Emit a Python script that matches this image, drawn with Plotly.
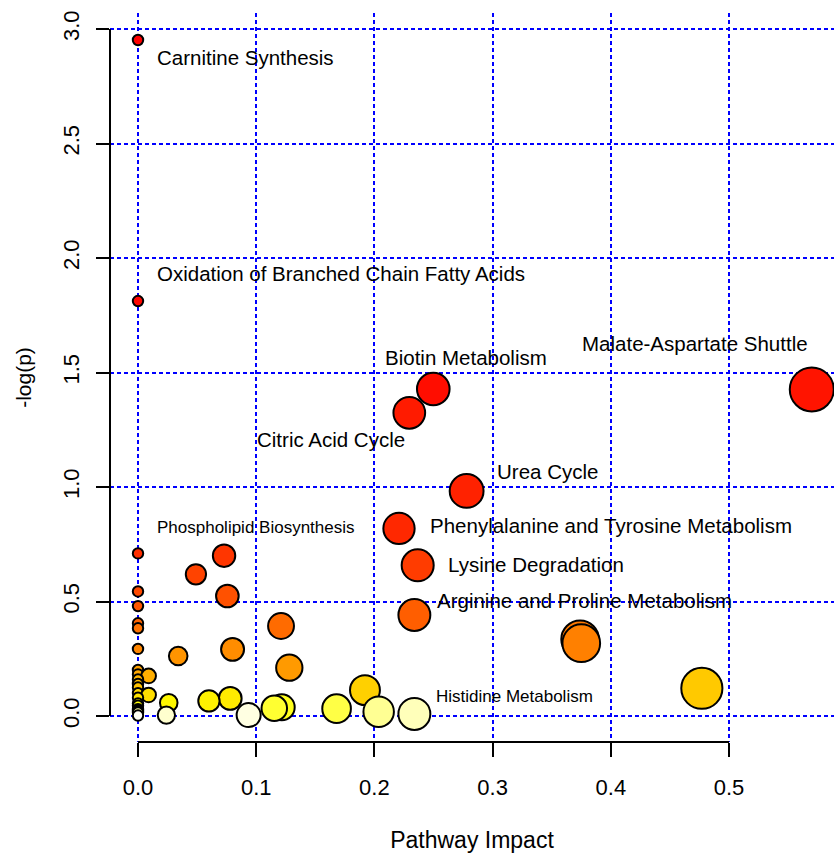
import colorsys
import numpy as np
import pandas as pd
import plotly.graph_objects as go

# ---------------- data ----------------
pathway = [
    "Carnitine Synthesis", "Oxidation of Branched Chain Fatty Acids", "Biotin Metabolism",
    "Malate-Aspartate Shuttle", "Citric Acid Cycle", "Urea Cycle",
    "Phenylalanine and Tyrosine Metabolism", "Phospholipid Biosynthesis", "",
    "Lysine Degradation", "", "", "", "", "Arginine and Proline Metabolism",
    "", "", "", "", "", "", "", "", "", "", "", "", "", "", "", "", "", "", "", "",
    "", "", "", "", "", "", "", "", "", "", "", "", "", "Histidine Metabolism", "", "", "",
]
impact = [
    0.000, 0.000, 0.2498, 0.570, 0.2295, 0.278, 0.2208, 0.000, 0.0728, 0.2366,
    0.049, 0.000, 0.0756, 0.000, 0.2338, 0.000, 0.121, 0.000, 0.374, 0.375,
    0.000, 0.080, 0.034, 0.128, 0.000, 0.000, 0.009, 0.000, 0.000, 0.000,
    0.477, 0.192, 0.000, 0.009, 0.000, 0.078, 0.060, 0.026, 0.000, 0.000,
    0.1216, 0.1153, 0.168, 0.000, 0.000, 0.000, 0.2036, 0.000, 0.2338, 0.024,
    0.0936, 0.000,
]
neglogp = [
    2.952, 1.812, 1.428, 1.426, 1.324, 0.983, 0.819, 0.710, 0.700, 0.658,
    0.619, 0.544, 0.524, 0.480, 0.441, 0.405, 0.393, 0.383, 0.335, 0.318,
    0.293, 0.291, 0.262, 0.211, 0.201, 0.182, 0.175, 0.160, 0.140, 0.125,
    0.121, 0.113, 0.100, 0.092, 0.080, 0.077, 0.066, 0.058, 0.055, 0.045,
    0.038, 0.034, 0.032, 0.030, 0.025, 0.020, 0.019, 0.015, 0.009, 0.004,
    0.004, 0.002,
]
x_ticks = [0.0, 0.1, 0.2, 0.3, 0.4, 0.5]
x_ticklabels = ["0.0", "0.1", "0.2", "0.3", "0.4", "0.5"]
y_ticks = [0.0, 0.5, 1.0, 1.5, 2.0, 2.5, 3.0]
y_ticklabels = ["0.0", "0.5", "1.0", "1.5", "2.0", "2.5", "3.0"]

# ---------------- styles ----------------
FONT = "Liberation Sans, Arial, sans-serif"
# label placement: (xanchor, xshift px, yshift px, font size)
label_style = {
    "Carnitine Synthesis": ("left", 17, -17, 20.5),
    "Oxidation of Branched Chain Fatty Acids": ("left", 17, 28, 20.5),
    "Malate-Aspartate Shuttle": ("right", -2, 46, 20.5),
    "Biotin Metabolism": ("center", 33, 32, 20.5),
    "Citric Acid Cycle": ("right", -2, -27, 20.5),
    "Urea Cycle": ("left", 28, 19, 20.5),
    "Phenylalanine and Tyrosine Metabolism": ("left", 29, 3, 20.5),
    "Lysine Degradation": ("left", 28, 1, 20.5),
    "Arginine and Proline Metabolism": ("left", 21, 15, 20.5),
    "Phospholipid Biosynthesis": ("left", 17, 26, 17),
    "Histidine Metabolism": ("left", 20, 17, 17),
}


def heat_colors(n):
    """R's heat.colors(n)."""
    j = n // 4
    i = n - j
    cols = []
    for k in range(i):
        h = (1 / 6) * k / (i - 1) if i > 1 else 0.0
        cols.append(colorsys.hsv_to_rgb(h, 1.0, 1.0))
    if j > 0:
        for s in np.linspace(1 - 1 / (2 * j), 1 / (2 * j), j):
            cols.append(colorsys.hsv_to_rgb(1 / 6, s, 1.0))
    return ["rgb(%d,%d,%d)" % tuple(round(c * 255) for c in rgb) for rgb in cols]


df = pd.DataFrame({"name": pathway, "x": impact, "y": neglogp})
df = df.sort_values("y", ascending=False, kind="stable").reset_index(drop=True)
n = len(df)
df["rank"] = np.arange(n)
heat = heat_colors(n)
colorscale = [[k / (n - 1), c] for k, c in enumerate(heat)]

# circle radius from sqrt(impact) (MetaboAnalyst style)
sq = np.sqrt(df["x"].to_numpy())
minR, maxR = 6.2, 23.0
radius = minR + (maxR - minR) * (sq - sq.min()) / (sq.max() - sq.min())
LW = 2
df["size"] = 2 * radius - LW

fig = go.Figure()
fig.add_trace(go.Scatter(
    x=df["x"], y=df["y"], mode="markers", cliponaxis=False,
    text=df["name"], hoverinfo="text+x+y",
    marker=dict(size=df["size"], sizemode="diameter", color=df["rank"],
                colorscale=colorscale, cmin=0, cmax=n - 1, showscale=False,
                line=dict(color="black", width=LW), opacity=1),
    showlegend=False,
))

annotations = []
for _, r in df.iterrows():
    if r["name"] and r["name"] in label_style:
        xa, xs, ys, fs = label_style[r["name"]]
        annotations.append(dict(
            x=r["x"], y=r["y"], xref="x", yref="y", text=r["name"], showarrow=False,
            xanchor=xa, yanchor="middle", xshift=xs, yshift=ys,
            font=dict(family=FONT, size=fs, color="black")))

# R-style axis lines spanning first to last tick
shapes = [
    dict(type="line", xref="paper", yref="y", x0=0, x1=0, y0=y_ticks[0], y1=y_ticks[-1],
         line=dict(color="black", width=2)),
    dict(type="line", xref="x", yref="paper", x0=x_ticks[0], x1=x_ticks[-1], y0=0, y1=0,
         line=dict(color="black", width=2)),
]

GRID = dict(showgrid=True, gridcolor="#0000FF", gridwidth=2, griddash="4px,3px",
            zeroline=False, showline=False, ticks="outside", tickcolor="black",
            tickwidth=2, automargin=False)

fig.update_layout(
    width=834, height=853,
    margin=dict(l=110, r=0, t=13, b=111),
    paper_bgcolor="white", plot_bgcolor="white",
    font=dict(family=FONT, color="black"),
    annotations=annotations, shapes=shapes,
    xaxis=dict(range=[-0.02369, 0.5888], tickvals=x_ticks, ticktext=x_ticklabels,
               ticklen=14, ticklabelstandoff=12,
               tickfont=dict(family=FONT, size=22, color="black"),
               title=dict(text="Pathway Impact", font=dict(family=FONT, size=23), standoff=33),
               **GRID),
    yaxis=dict(range=[-0.1135, 3.0699], tickvals=y_ticks, ticktext=y_ticklabels,
               ticklen=13, tickangle=-90, ticklabelstandoff=8,
               tickfont=dict(family=FONT, size=22, color="black"),
               title=dict(text="-log(p)", font=dict(family=FONT, size=21), standoff=21),
               **GRID),
)

fig.write_html(
    "out.html",
    config={"displayModeBar": False},
    post_script="document.documentElement.style.margin='0';"
                "document.body.style.margin='0';document.body.style.overflow='hidden';",
)
